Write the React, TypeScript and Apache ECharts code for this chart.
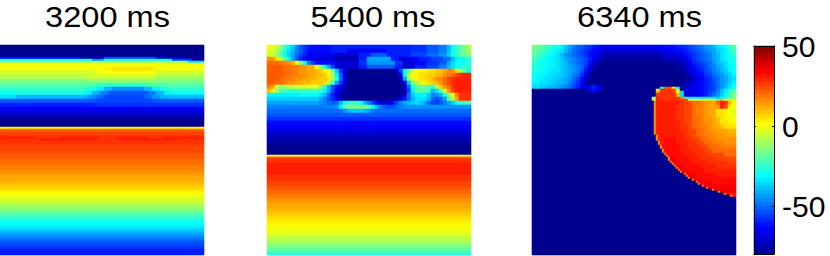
import React, { useEffect, useRef } from "react";
import * as echarts from "echarts";

// Potential levels: each letter is one reading, from A = -80 mV to z = 47.5 mV in steps of 2.5.
const levelLetters = "ABCDEFGHIJKLMNOPQRSTUVWXYZabcdefghijklmnopqrstuvwxyz";
const titles = ["3200 ms", "5400 ms", "6340 ms"];
const colorbarTicks = [-50, 0, 50];
const colorbarLevels = [
  -79, -76.5, -74, -71.5, -69, -66.5, -64, -61.5, -59, -56.5, -54, -51.5, -49, -46.5, -44, -41.5, -39, -36.5, -34,
  -31.5, -29, -26.5, -24, -21.5, -19, -16.5, -14, -11.5, -9, -6.5, -4, -1.5, 1, 3.5, 6, 8.5, 11, 13.5, 16, 18.5, 21,
  23.5, 26, 28.5, 31, 33.5, 36, 38.5, 41, 43.5, 46, 48.5,
];
const jetColors = ["#00008f", "#0000ff", "#0080ff", "#00ffff", "#80ff80", "#ffff00", "#ff8000", "#ff0000", "#800000"];

// Each entry: "how many rows:run-length coded readings along the row".
const panel3200 = [
  "6:A", "1:G20C6K13E8A4", "1:U23O3U17K5C3", "1:b47S4", "2:g", "2:g26h2i10h2g11", "2:e24g15e12", "2:d22e17c12",
  "2:a22b17a12", "2:Y22X2W12X2Y13", "2:W22V2T2Q2O8Q2T2V2W9", "2:U4V17T2Q2N2L10N2Q2T2U8", "2:S4Q18O2M2K10M2O2Q11",
  "2:L24K14L13", "2:I24J27",
  "2:G", "2:E", "2:C", "4:A", "1:h", "1:o", "2:q", "1:r", "1:s9r6s10r4s8r4s10", "1:r10s14r6s14r7", "2:r", "2:q",
  "2:q", "3:p", "3:o", "3:n", "2:m", "3:l", "2:k", "2:j", "1:i", "1:h", "2:g", "1:f", "2:e", "1:d", "1:c", "1:b",
  "1:a", "1:Z", "1:Y", "1:X", "1:W", "1:V", "2:U", "1:T", "1:S", "1:R", "1:Q", "1:P", "1:O", "1:N", "1:M", "1:L",
  "2:K", "1:J", "3:I",
];
const panel5400 = [
  "2:g2ebXTROLJIH5I20J4L3N2QUWYad",
  "2:f2cZVSQNLJH6I4G10I6J4L3N2QUWYac",
  "2:e2bYURPMKIG7E6I3L4I3I3K4M3O2RUWYZa",
  "2:m2ieYTPLIGE7C6I2P6I2E2G3I3K3M2QTUVW",
  "2:o3n2mlhaUNKH5E6J2O7J2E3H3J3L2PSUUVV",
  "2:p4o2n2m2llhaUPKE6I2L7I2E3I3K3N2QSUVWW",
  "2:p4o2n2m2l2kjhfZRJEA12DKUZegh2i2jklnmibXU",
  "2:p4o2n2m2l2k2jhcTLEA13GUeghi2j2kkmnoqrs2",
  "2:p3o2n2m2l2k2jjicVMGA13DPaghi2jkmnoqrs4",
  "2:p2o2nm2l2k2j2jidXPJFA14GRZcfhijkmoqrs4",
  "2:nlead3e3f3bWQLHECA14EMVZ3YWcjmors4",
  "2:khbYW10TPKGECA14CKTY3WQSYemqs4",
  "2:T8U5SQMIFCA15FMRT3RNOQVahnr3",
  "2:R13PNLJGDBA12CEIMQS3QMKMPYdlr3",
  "2:P13ONMLMQUW3UQNKHEDEHKNPQRSRPMKKLNPRUWXX",
  "2:N17OTYa5YUQNLKLMNO17",
  "2:M19OQR3QPNM24",
  "2:L", "2:J", "2:H", "2:G", "2:F", "2:D", "2:C", "2:B", "5:A", "1:h", "1:q", "2:r", "6:s", "3:r", "1:q", "2:q",
  "2:p", "2:o", "2:n", "2:m", "3:l", "2:k", "2:j", "2:i", "2:h", "3:g", "2:f", "1:e", "2:d", "1:c", "1:b", "1:a",
  "1:Z", "1:Y", "1:X", "1:W",
];
const panel6340 = [
  "2:aZYXWVUTRPNMLKJIHG16H3I2JKLMNOPQSTUWY",
  "2:ZYXWVUTSQOMLKJIHGFE14FG3H2IJKLMNOPRSTVX",
  "2:YXWVUTSQONMLKJHGFEC14DE3F2HIJKLMNPQSTUW",
  "2:XWVUTTSRPONMLKIGECB14CD3E2GHJKLMNPQSTUV",
  "2:WVUUTTSRQONMLKHECBA15B3C2EGIJKLMOQRSUU",
  "2:VVUUTTSRQPONMJFCBA19B2DFHIJKMNPQSTU",
  "2:VUUTTSSRQPONLHDBA21BCEGHIKLNOQRTU",
  "2:UUTTSSRRQPNMJFCA23BDFGHJKMNOQRT",
  "2:UTTSSRRQPOMKHDBA23ABDEGIJLMOPRS",
  "2:TTSSRRQQPNLJGCA24CEFGHIJKMOPRT",
  "1:S2R2Q2PONMKIGDGIGCA20DEFGHIJKMOQSU",
  "1:S2R2Q2PONMKIGEHIHDA14TpqiSADEFGHIJKMOQSU",
  "1:A14FHFA14irrrqeAEFFGHIJKNQTVY",
  "1:A14EFEA14krrrqhSEFFGHIJKNQTWZ",
  "2:A31r5kSDEFGHIKMORUXa",
  "1:A30csr5nWS7RTUYb",
  "1:A30csr5q2e7Zkhee",
  "2:A30.5m.5s6rq2o2nm2losrkg",
  "2:A30.5m.5s5r2q2on2ml2msqhg",
  "2:A30.5m.5s5r2q2on2ml2i2hgf",
  "2:A30.5m.5s5r2q2on2ml2i2hgf",
  "2:A30.5m.5s5r2q2o2nm2lkih2g",
  "2:A30.5m.5s6rq2o2nm2lki2h2",
  "2:A30.5m.5s6r2qo2n2ml2ki3",
  "2:A30.5m.5s6r2q2o2nm2l3k2",
  "1:A30.5m.5s7rq2o2n2m3l3",
  "1:A31m.5s6.5rq2o2n2m3l3",
  "2:A31m.5s1.5t3s2r2q2o2n2m5",
  "2:A31.5m.5st3s3r2q2o2n3m3",
  "2:A32m.5t4.5s2r3q2o3n4",
  "2:A32.5m.5t4s3r3q2o6",
  "1:A33m.5t4.5s3r3q4o3",
  "1:A33.5m.5t4s3r3q4o3",
  "2:A34m.5u1.5t3s3r4q5",
  "1:A34.5m.5u2t3s4r5q2",
  "1:A35m.5u1.5t3s4r5q2",
  "1:A35.5m.5u2t4s4r5",
  "1:A36m.5u1.5t4s4r5",
  "1:A36.5m.5u2t4s8",
  "1:A37m.5u1.5t4s8",
  "1:A38m.5u2.5t5s5",
  "1:A38.5m.5u2t5s5",
  "1:A39m.5u3.5t8",
  "1:A40m.5u2.5t8",
  "1:A41m.5u3.5t6",
  "1:A41.5m.5u3t6",
  "1:A42.5m.5u8",
  "1:A43.5m.5u7",
  "1:A45m.5u5.5",
  "1:A46.5m.5u4",
  "1:A48m.5t2.5",
  "1:A49.5m.5s",
  "29:A",
];

const UNIT_COLS = 51;
const ROWS = 105;

function decode(spec: string[], perUnit: number): number[][] {
  const width = UNIT_COLS * perUnit;
  const out: number[][] = [];
  for (const entry of spec) {
    const [count, body] = entry.split(":");
    const cells: number[] = [];
    for (const m of body.matchAll(/([A-Za-z])([\d.]*)/g)) {
      const v = -80 + 2.5 * levelLetters.indexOf(m[1]);
      const n = Math.round((m[2] ? Number(m[2]) : 1) * perUnit);
      for (let i = 0; i < n; i++) cells.push(v);
    }
    while (cells.length < width) cells.push(cells[cells.length - 1]);
    for (let i = 0; i < Number(count); i++) out.push(cells.slice(0, width));
  }
  return out.slice(0, ROWS);
}

function toCells(rows: number[][]) {
  const cells: number[][] = [];
  rows.forEach((row, y) => row.forEach((v, x) => cells.push([x, y, v])));
  return cells;
}

export default function App() {
  const ref = useRef<HTMLDivElement>(null);
  useEffect(() => {
    const chart = echarts.init(ref.current!, null, { renderer: "svg" });
    const rowCats = Array.from({ length: ROWS }, (_, i) => String(i));
    const lefts = [0, 267, 532];
    const textFont = "Liberation Sans";
    const titleCenters = [107.5, 373, 639.5];
    const panels = [panel3200, panel5400, panel6340];
    const perUnit = [1, 1, 2];

    // Whole-pixel cells: 51 x 4 px wide, 105 x 2 px high.
    const grids: any[] = lefts.map((left) => ({ left, top: 45, width: 204, height: 210 }));
    grids.push({ left: 754, top: 46, width: 20, height: 208 });

    const xAxes: any[] = lefts.map((_, i) => ({
      type: "category",
      gridIndex: i,
      data: Array.from({ length: UNIT_COLS * perUnit[i] }, (_, k) => String(k)),
      show: false,
    }));
    const yAxes: any[] = lefts.map((_, i) => ({ type: "category", gridIndex: i, data: rowCats, inverse: true, show: false }));

    const lineStyle = { color: "#000", width: 1 };
    const frameX = (position: string) => ({
      type: "category",
      gridIndex: 3,
      position,
      data: ["bar"],
      z: 5,
      axisLine: { show: true, onZero: false, lineStyle },
      axisTick: { show: false },
      axisLabel: { show: false },
    });
    const barXIndex = xAxes.length;
    xAxes.push(frameX("bottom"), frameX("top"));
    const barYIndex = yAxes.length;
    yAxes.push({ type: "category", gridIndex: 3, data: colorbarLevels.map(String), show: false });
    const frameY = (position: string, labels: boolean) => ({
      type: "value",
      gridIndex: 3,
      position,
      min: -80,
      max: 50,
      z: 5,
      splitLine: { show: false },
      axisLine: { show: true, onZero: false, lineStyle },
      axisTick: { show: true, inside: true, length: 2, customValues: colorbarTicks, lineStyle },
      axisLabel: labels
        ? { show: true, customValues: colorbarTicks, margin: 8, fontFamily: textFont, fontSize: 30, color: "#000", padding: [3, 0, 0, 0] }
        : { show: false },
    });
    yAxes.push(frameY("right", true), frameY("left", false));

    const series: any[] = panels.map((spec, i) => ({
      type: "heatmap",
      xAxisIndex: i,
      yAxisIndex: i,
      data: toCells(decode(spec, perUnit[i])),
      silent: true,
      progressive: 0,
      itemStyle: { borderWidth: 0 },
      emphasis: { disabled: true },
    }));
    series.push({
      type: "heatmap",
      xAxisIndex: barXIndex,
      yAxisIndex: barYIndex,
      data: colorbarLevels.map((v, i) => [0, i, v]),
      silent: true,
      progressive: 0,
      itemStyle: { borderWidth: 0 },
      emphasis: { disabled: true },
    });

    chart.setOption({
      animation: false,
      backgroundColor: "#fff",
      graphic: titles.map((text, i) => ({
        type: "text",
        x: titleCenters[i],
        y: 2,
        scaleX: 1.085,
        style: {
          text,
          fontFamily: textFont,
          fontSize: 30,
          fill: "#000",
          textAlign: "center",
          textVerticalAlign: "top",
        },
      })),
      grid: grids,
      xAxis: xAxes,
      yAxis: yAxes,
      visualMap: {
        show: false,
        type: "continuous",
        min: -80,
        max: 50,
        dimension: 2,
        seriesIndex: [0, 1, 2, 3],
        inRange: { color: jetColors },
      },
      series,
    });
    return () => chart.dispose();
  }, []);
  return <div ref={ref} style={{ position: "absolute", left: 0, top: 0, width: 830, height: 256 }} />;
}
